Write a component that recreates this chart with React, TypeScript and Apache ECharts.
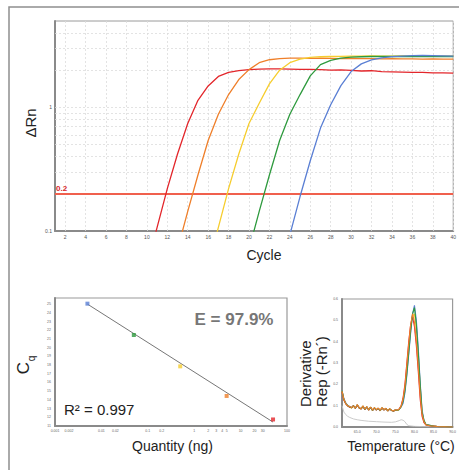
import React, { useEffect, useRef } from "react";
import * as echarts from "echarts";

// ---------- Amplification plot ----------
const cycles = [1, 2, 3, 4, 5, 6, 7, 8, 9, 10, 11, 12, 13, 14, 15, 16, 17, 18, 19, 20, 21, 22, 23, 24, 25, 26, 27, 28, 29, 30, 31, 32, 33, 34, 35, 36, 37, 38, 39, 40];
const cycleTicks = [2, 4, 6, 8, 10, 12, 14, 16, 18, 20, 22, 24, 26, 28, 30, 32, 34, 36, 38, 40];
const rnTicks = [0.1, 1];
const rnGridLines = [0.3, 0.4, 0.5, 0.6, 0.7, 0.8, 0.9, 1, 2, 3, 4];
const threshold = 0.2;

const redRn = [null, null, null, null, null, null, null, null, null, 0.052, 0.107, 0.22, 0.42, 0.74, 1.14, 1.49, 1.78, 1.92, 1.98, 2.02, 2.04, 2.05, 2.05, 2.04, 2.03, 2.03, 2.02, 2.0, 2.01, 1.99, 1.97, 1.98, 1.95, 1.94, 1.93, 1.92, 1.92, 1.9, 1.9, 1.89];
const orangeRn = [null, null, null, null, null, null, null, null, null, null, null, null, 0.071, 0.144, 0.284, 0.54, 0.88, 1.27, 1.68, 2.02, 2.3, 2.43, 2.48, 2.5, 2.5, 2.49, 2.5, 2.49, 2.48, 2.49, 2.48, 2.48, 2.47, 2.48, 2.47, 2.47, 2.46, 2.47, 2.46, 2.46];
const yellowRn = [null, null, null, null, null, null, null, null, null, null, null, null, null, null, null, 0.052, 0.107, 0.22, 0.42, 0.74, 1.08, 1.55, 2.0, 2.3, 2.46, 2.54, 2.57, 2.58, 2.59, 2.6, 2.6, 2.61, 2.6, 2.6, 2.61, 2.6, 2.6, 2.59, 2.6, 2.6];
const greenRn = [null, null, null, null, null, null, null, null, null, null, null, null, null, null, null, null, null, null, null, 0.071, 0.144, 0.284, 0.54, 0.88, 1.27, 1.8, 2.22, 2.4, 2.5, 2.55, 2.57, 2.58, 2.58, 2.59, 2.58, 2.59, 2.58, 2.58, 2.59, 2.58];
const blueRn = [null, null, null, null, null, null, null, null, null, null, null, null, null, null, null, null, null, null, null, null, null, null, null, 0.093, 0.19, 0.37, 0.68, 1.05, 1.5, 1.95, 2.25, 2.42, 2.52, 2.57, 2.6, 2.62, 2.63, 2.62, 2.61, 2.6];

// ---------- Standard curve ----------
const quantities = [0.005, 0.05, 0.5, 5, 50];
const cqValues = [25.05, 21.45, 17.85, 14.45, 11.75];
const fitQuantities = [0.005, 50];
const fitCq = [25.0, 11.45];
const quantityTicks = [0.001, 0.002, 0.01, 0.02, 0.1, 0.2, 1, 2, 3, 4, 5, 10, 20, 30, 100];
const cqTicks = [11, 12, 13, 14, 15, 16, 17, 18, 19, 20, 21, 22, 23, 24, 25];

// ---------- Melt curve ----------
const meltTemps = [61, 61.5, 62, 62.5, 63, 63.5, 64, 64.5, 65, 65.5, 66, 66.5, 67, 67.5, 68, 68.5, 69, 69.5, 70, 70.5, 71, 71.5, 72, 72.5, 73, 73.5, 74, 74.5, 75, 75.5, 76, 76.5, 77, 77.5, 78, 78.5, 79, 79.5, 80, 80.5, 81, 81.5, 82, 82.5, 83, 84, 85, 86, 87, 88, 89, 90];
const meltRed = [0.165, 0.125, 0.108, 0.098, 0.093, 0.09, 0.101, 0.087, 0.103, 0.088, 0.084, 0.097, 0.081, 0.094, 0.079, 0.092, 0.077, 0.089, 0.079, 0.087, 0.076, 0.089, 0.079, 0.086, 0.075, 0.084, 0.077, 0.074, 0.079, 0.078, 0.085, 0.1, 0.135, 0.2, 0.3, 0.4, 0.48, 0.52, 0.47, 0.38, 0.26, 0.13, 0.05, 0.02, 0.01, 0.006, 0.004, 0.002, 0.001, 0.001, 0, 0];
const meltOrange = [0.168, 0.13, 0.11, 0.1, 0.096, 0.091, 0.099, 0.089, 0.105, 0.091, 0.086, 0.099, 0.083, 0.096, 0.081, 0.094, 0.079, 0.091, 0.081, 0.089, 0.078, 0.091, 0.081, 0.088, 0.077, 0.086, 0.079, 0.076, 0.081, 0.079, 0.084, 0.098, 0.13, 0.19, 0.29, 0.39, 0.48, 0.53, 0.49, 0.4, 0.28, 0.15, 0.06, 0.025, 0.01, 0.006, 0.004, 0.002, 0.001, 0.001, 0, 0];
const meltYellow = [0.17, 0.128, 0.109, 0.099, 0.094, 0.089, 0.098, 0.088, 0.102, 0.089, 0.085, 0.097, 0.082, 0.094, 0.08, 0.092, 0.078, 0.09, 0.08, 0.087, 0.077, 0.09, 0.08, 0.087, 0.076, 0.085, 0.078, 0.075, 0.08, 0.077, 0.082, 0.096, 0.125, 0.18, 0.27, 0.37, 0.46, 0.52, 0.53, 0.46, 0.34, 0.19, 0.07, 0.03, 0.012, 0.007, 0.004, 0.002, 0.001, 0.001, 0, 0];
const meltGreen = [0.17, 0.13, 0.11, 0.1, 0.095, 0.09, 0.1, 0.088, 0.104, 0.09, 0.085, 0.098, 0.082, 0.095, 0.08, 0.093, 0.078, 0.09, 0.08, 0.088, 0.077, 0.09, 0.08, 0.087, 0.076, 0.085, 0.078, 0.075, 0.08, 0.077, 0.082, 0.095, 0.12, 0.17, 0.25, 0.35, 0.45, 0.53, 0.56, 0.48, 0.35, 0.2, 0.07, 0.03, 0.012, 0.008, 0.004, 0.002, 0.001, 0.001, 0, 0];
const meltBlue = [0.172, 0.132, 0.112, 0.101, 0.096, 0.091, 0.099, 0.089, 0.103, 0.091, 0.086, 0.097, 0.083, 0.094, 0.081, 0.092, 0.079, 0.089, 0.081, 0.087, 0.078, 0.089, 0.081, 0.086, 0.077, 0.084, 0.079, 0.076, 0.081, 0.078, 0.083, 0.094, 0.11, 0.16, 0.24, 0.34, 0.44, 0.53, 0.57, 0.5, 0.37, 0.21, 0.08, 0.03, 0.012, 0.008, 0.004, 0.002, 0.001, 0.001, 0, 0];
const ntcTemps = [61, 61.5, 62, 62.5, 63, 64, 65, 66, 67, 68, 70, 72, 74, 75, 76, 76.5, 77, 77.5, 78, 78.5, 80, 82, 86, 90];
const ntcValues = [0.1, 0.07, 0.058, 0.05, 0.045, 0.038, 0.034, 0.031, 0.029, 0.027, 0.025, 0.023, 0.022, 0.024, 0.03, 0.034, 0.032, 0.025, 0.012, 0.006, 0.003, 0.002, 0.001, 0];
const meltXTicks = [65, 70, 75, 80, 85, 90];

const RED = "#e3262b";
const ORANGE = "#ef7f2a";
const YELLOW = "#f6cd2e";
const GREEN = "#2e9a3e";
const BLUE = "#5a7fd4";
const dotColors = [BLUE, GREEN, YELLOW, ORANGE, RED];

const FONT = "'Liberation Sans', Arial, Helvetica, sans-serif";
const AXIS_LINE = { lineStyle: { color: "#8a8a8a", width: 2 } };

function pairs(xs: number[], ys: (number | null)[]) {
  const out: number[][] = [];
  xs.forEach((x, i) => {
    const y = ys[i];
    if (y !== null && y !== undefined) out.push([x, y]);
  });
  return out;
}

function ampSeries(name: string, color: string, values: (number | null)[], z: number) {
  return {
    name,
    type: "line",
    xAxisIndex: 0,
    yAxisIndex: 0,
    data: pairs(cycles, values),
    showSymbol: false,
    symbol: "none",
    smooth: false,
    clip: true,
    z,
    lineStyle: { color, width: 1.3 },
  };
}

function meltSeries(name: string, color: string, values: number[], z: number) {
  return {
    name,
    type: "line",
    xAxisIndex: 2,
    yAxisIndex: 2,
    data: pairs(meltTemps, values),
    symbol: "none",
    showSymbol: false,
    clip: true,
    z,
    lineStyle: { color, width: 1.1 },
  };
}

export default function App() {
  const ref = useRef<HTMLDivElement>(null);

  useEffect(() => {
    if (!ref.current) return;
    const chart = echarts.init(ref.current, undefined, { renderer: "svg" });
    const tickLabel = { fontSize: 5, color: "#555", fontFamily: FONT };

    const option: any = {
      animation: false,
      textStyle: { fontFamily: FONT },
      grid: [
        { left: 55, top: 21, width: 404, height: 210, show: true, borderColor: "#9a9a9a", borderWidth: 1, backgroundColor: "transparent" },
        { left: 55, top: 298, width: 232, height: 128, show: true, borderColor: "#9a9a9a", borderWidth: 1.2, backgroundColor: "transparent" },
        { left: 342, top: 299, width: 117, height: 128, show: true, borderColor: "#9a9a9a", borderWidth: 1.2, backgroundColor: "transparent" },
      ],
      xAxis: [
        {
          gridIndex: 0,
          type: "value",
          min: 1,
          max: 40,
          axisLine: AXIS_LINE,
          axisTick: { show: false },
          splitLine: { show: false },
          axisLabel: { ...tickLabel, margin: 3, customValues: cycleTicks },
        },
        {
          gridIndex: 1,
          type: "log",
          logBase: 10,
          min: 0.001,
          max: 100,
          axisLine: AXIS_LINE,
          axisTick: { show: false },
          splitLine: { show: false },
          axisLabel: { fontSize: 3.5, color: "#666", margin: 3, customValues: quantityTicks, formatter: (v: number) => String(v) },
        },
        {
          gridIndex: 2,
          type: "value",
          min: 61,
          max: 90,
          axisLine: AXIS_LINE,
          axisTick: { show: false },
          splitLine: { show: false },
          axisLabel: { fontSize: 3.5, color: "#666", margin: 3, customValues: meltXTicks, formatter: (v: number) => v.toFixed(1) },
        },
      ],
      yAxis: [
        {
          gridIndex: 0,
          type: "log",
          logBase: 10,
          min: 0.1,
          max: 5,
          axisLine: AXIS_LINE,
          axisTick: { show: false },
          splitLine: { show: false },
          axisLabel: { ...tickLabel, margin: 3, customValues: rnTicks, formatter: (v: number) => String(v) },
        },
        {
          gridIndex: 1,
          type: "value",
          min: 11,
          max: 25.7,
          axisLine: AXIS_LINE,
          axisTick: { show: false },
          splitLine: { show: false },
          axisLabel: { fontSize: 3.5, color: "#666", margin: 4, customValues: cqTicks },
        },
        {
          gridIndex: 2,
          type: "value",
          min: 0,
          max: 0.6,
          interval: 0.1,
          axisLine: AXIS_LINE,
          axisTick: { show: false },
          splitLine: { show: false },
          axisLabel: { fontSize: 3.5, color: "#666", margin: 4, formatter: (v: number) => v.toFixed(1) },
        },
      ],
      series: [
        {
          name: "grid",
          type: "line",
          xAxisIndex: 0,
          yAxisIndex: 0,
          data: [],
          markLine: {
            silent: true,
            symbol: ["none", "none"],
            z: 1,
            label: { show: false },
            lineStyle: { color: "#dcdcdc", type: [2, 2], width: 0.8 },
            data: [
              ...cycleTicks.map((v) => ({ xAxis: v })),
              ...rnGridLines.map((v) => ({ yAxis: v })),
            ],
          },
        },
        {
          name: "threshold",
          type: "line",
          xAxisIndex: 0,
          yAxisIndex: 0,
          data: [],
          z: 3,
          markLine: {
            silent: true,
            symbol: ["none", "none"],
            z: 3,
            lineStyle: { color: "#f0604d", type: "solid", width: 2 },
            label: {
              show: true,
              position: "insideStartTop",
              formatter: String(threshold),
              color: "#d8262a",
              fontSize: 8,
              fontWeight: "bold",
              distance: [1, 1],
            },
            data: [{ yAxis: threshold }],
          },
        },
        ampSeries("Red", RED, redRn, 4),
        ampSeries("Orange", ORANGE, orangeRn, 5),
        ampSeries("Yellow", YELLOW, yellowRn, 6),
        ampSeries("Green", GREEN, greenRn, 7),
        ampSeries("Blue", BLUE, blueRn, 8),
        {
          name: "fit",
          type: "line",
          xAxisIndex: 1,
          yAxisIndex: 1,
          data: pairs(fitQuantities, fitCq),
          symbol: "none",
          lineStyle: { color: "#666", width: 0.9 },
          z: 2,
        },
        {
          name: "standards",
          type: "scatter",
          xAxisIndex: 1,
          yAxisIndex: 1,
          symbol: "rect",
          symbolSize: 4,
          z: 3,
          data: quantities.map((q, i) => ({ value: [q, cqValues[i]], itemStyle: { color: dotColors[i] } })),
        },
        {
          name: "NTC",
          type: "line",
          xAxisIndex: 2,
          yAxisIndex: 2,
          data: pairs(ntcTemps, ntcValues),
          symbol: "none",
          lineStyle: { color: "#c4c4c4", width: 0.9 },
          z: 2,
        },
        meltSeries("Yellow melt", YELLOW, meltYellow, 3),
        meltSeries("Red melt", RED, meltRed, 4),
        meltSeries("Blue melt", BLUE, meltBlue, 5),
        meltSeries("Green melt", GREEN, meltGreen, 6),
        meltSeries("Orange melt", ORANGE, meltOrange, 7),
      ],
      graphic: [
        { type: "rect", z: -10, shape: { x: 9, y: 7, width: 460, height: 470 }, style: { fill: "none", stroke: "#8f8f8f", lineWidth: 1.5 } },
        { type: "text", x: 30, y: 123, rotation: Math.PI / 2, style: { text: "ΔRn", fontSize: 15, fontFamily: FONT, fill: "#222", align: "center", verticalAlign: "middle" } },
        { type: "text", x: 264, y: 255, style: { text: "Cycle", fontSize: 14, fontFamily: FONT, fill: "#222", align: "center", verticalAlign: "middle" } },
        { type: "text", x: 23, y: 368, rotation: Math.PI / 2, style: { text: "C", fontSize: 17, fontFamily: FONT, fill: "#222", align: "center", verticalAlign: "middle" } },
        { type: "text", x: 31.5, y: 358.5, rotation: Math.PI / 2, style: { text: "q", fontSize: 10, fontFamily: FONT, fill: "#222", align: "center", verticalAlign: "middle" } },
        { type: "text", x: 172.5, y: 446, style: { text: "Quantity (ng)", fontSize: 14, fontFamily: FONT, fill: "#222", align: "center", verticalAlign: "middle" } },
        { type: "text", x: 234, y: 319, style: { text: "E = 97.9%", fontSize: 17, fontWeight: "bold", fontFamily: FONT, fill: "#777", align: "center", verticalAlign: "middle" } },
        { type: "text", x: 64, y: 409, style: { text: "R² = 0.997", fontSize: 15, fontFamily: FONT, fill: "#222", align: "left", verticalAlign: "middle" } },
        { type: "text", x: 305, y: 407, rotation: Math.PI / 2, style: { text: "Derivative", fontSize: 15, fontFamily: FONT, fill: "#222", align: "left", verticalAlign: "middle" } },
        { type: "text", x: 321.5, y: 407, rotation: Math.PI / 2, style: { text: "Rep (-Rn´)", fontSize: 15, fontFamily: FONT, fill: "#222", align: "left", verticalAlign: "middle" } },
        { type: "text", x: 401, y: 446, style: { text: "Temperature (°C)", fontSize: 14, fontFamily: FONT, fill: "#222", align: "center", verticalAlign: "middle" } },
      ],
    };

    chart.setOption(option);
    return () => chart.dispose();
  }, []);

  return (
    <div
      ref={ref}
      style={{ position: "absolute", left: 0, top: 0, width: 459, height: 470, background: "#fff" }}
    />
  );
}
